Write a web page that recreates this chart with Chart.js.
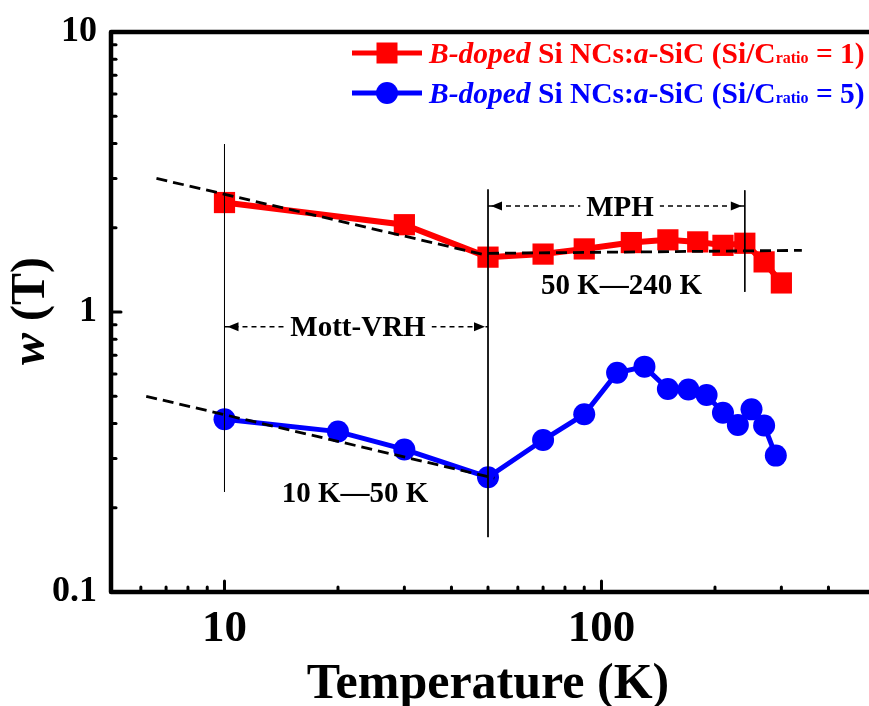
<!DOCTYPE html>
<html>
<head>
<meta charset="utf-8">
<script src="https://cdn.jsdelivr.net/npm/chart.js@4.4.1/dist/chart.umd.min.js"></script>
<style>
  html, body { margin: 0; padding: 0; background: #fff; overflow: hidden; }
  #wrap { width: 880px; height: 706px; }
</style>
</head>
<body>
<div id="wrap"><canvas id="chart" width="880" height="706"></canvas></div>
<script>
// values: temperature (K) vs w (T)
const tempRed = [10, 30, 50, 70, 90, 120, 150, 180, 210, 240, 270, 300];
const wRed = [2.46, 2.05, 1.57, 1.61, 1.68, 1.77, 1.81, 1.78, 1.73, 1.76, 1.51, 1.27];
const tempBlue = [10, 20, 30, 50, 70, 90, 110, 130, 150, 170, 190, 210, 230, 250, 270, 290];
const wBlue = [0.414, 0.374, 0.323, 0.257, 0.349, 0.431, 0.607, 0.638, 0.531, 0.529, 0.505, 0.437, 0.395, 0.449, 0.393, 0.307];
const ratios = [1, 5];
const seriesNames = ['B-doped Si NCs:a-SiC (Si/Cratio = 1)', 'B-doped Si NCs:a-SiC (Si/Cratio = 5)'];
const colors = ['#ff0000', '#0000ff'];

// dashed fit guides [T, w] and vertical region lines [T, wTop, wBottom]
const fitRedLow = [[6.6, 3.0], [50, 1.59]];
const fitRedHigh = [[50, 1.62], [340, 1.66]];
const fitBlue = [[6.2, 0.50], [52, 0.255]];
const regionLines = [[10, 3.98, 0.228], [50, 2.74, 0.157], [240, 2.72, 1.18]];
const arrows = [
  { from: 10, to: 50, w: 0.885, text: 'Mott-VRH', at: 22.6 },
  { from: 50, to: 240, w: 2.39, text: 'MPH', at: 112 }
];
const notes = [
  { text: '10 K\u201450 K', t: 22.2, w: 0.226 },
  { text: '50 K\u2014240 K', t: 113, w: 1.25 }
];

const xTicks = [6, 7, 8, 9, 10, 20, 30, 40, 50, 60, 70, 80, 90, 100, 200, 300, 400];
const xTickLabels = [10, 100];
const yTicks = [0.1, 0.2, 0.3, 0.4, 0.5, 0.6, 0.7, 0.8, 0.9, 1, 2, 3, 4, 5, 6, 7, 8, 9, 10];
const yTickLabels = [0.1, 1, 10];

const SERIF = '"Liberation Serif", "Times New Roman", serif';
const toXY = (xs, ys) => xs.map((x, i) => ({ x: x, y: ys[i] }));
const pairs = arr => arr.map(p => ({ x: p[0], y: p[1] }));

const guide = (data, dash, width) => ({
  data: data, borderColor: '#000', borderWidth: width, borderDash: dash,
  pointRadius: 0, fill: false, order: 0
});

const datasets = [];
datasets.push(guide(pairs(fitRedLow), [11, 6], 2.8));
datasets.push(guide(pairs(fitRedHigh), [11, 6], 2.8));
datasets.push(guide(pairs(fitBlue), [11, 6], 2.8));
regionLines.forEach(l => datasets.push(guide([{ x: l[0], y: l[1] }, { x: l[0], y: l[2] }], [], 1)));
arrows.forEach(a => datasets.push(guide([{ x: a.from, y: a.w }, { x: a.to, y: a.w }], [5, 4], 1.5)));

datasets.push({
  label: seriesNames[0], data: toXY(tempRed, wRed),
  borderColor: colors[0], backgroundColor: colors[0], borderWidth: 6,
  pointStyle: 'rect', pointRadius: 15, pointBorderWidth: 0, order: 1
});
datasets.push({
  label: seriesNames[1], data: toXY(tempBlue, wBlue),
  borderColor: colors[1], backgroundColor: colors[1], borderWidth: 5,
  pointStyle: 'circle', pointRadius: 11, pointBorderWidth: 0, order: 1
});

const decor = {
  id: 'decor',
  beforeDatasetsDraw(chart) {
    const { ctx, chartArea: a, scales: { x, y } } = chart;
    ctx.save();
    ctx.strokeStyle = '#000';
    ctx.lineCap = 'round';
    ctx.lineWidth = 3;
    x.ticks.forEach(t => {
      const px = x.getPixelForValue(t.value);
      const len = xTickLabels.includes(t.value) ? 11 : 5;
      ctx.beginPath(); ctx.moveTo(px, a.bottom); ctx.lineTo(px, a.bottom - len); ctx.stroke();
    });
    y.ticks.forEach(t => {
      const py = y.getPixelForValue(t.value);
      const len = yTickLabels.includes(t.value) ? 10 : 5;
      ctx.beginPath(); ctx.moveTo(a.left, py); ctx.lineTo(a.left + len, py); ctx.stroke();
    });
    ctx.lineWidth = 4.5;
    ctx.lineJoin = 'round';
    ctx.beginPath();
    ctx.moveTo(a.right + 10, a.top);
    ctx.lineTo(a.left, a.top);
    ctx.lineTo(a.left, a.bottom);
    ctx.lineTo(a.right + 10, a.bottom);
    ctx.stroke();
    ctx.restore();
  },
  afterDatasetsDraw(chart) {
    const { ctx, scales: { x, y } } = chart;
    ctx.save();
    ctx.fillStyle = '#000';
    ctx.font = 'bold 29px ' + SERIF;
    ctx.textAlign = 'center';
    ctx.textBaseline = 'middle';
    arrows.forEach(ar => {
      const py = y.getPixelForValue(ar.w);
      const x0 = x.getPixelForValue(ar.from) + 3;
      const x1 = x.getPixelForValue(ar.to) - 3;
      ctx.beginPath();
      ctx.moveTo(x0, py); ctx.lineTo(x0 + 11, py - 4.5); ctx.lineTo(x0 + 11, py + 4.5); ctx.closePath();
      ctx.moveTo(x1, py); ctx.lineTo(x1 - 11, py - 4.5); ctx.lineTo(x1 - 11, py + 4.5); ctx.closePath();
      ctx.fill();
      const cx = x.getPixelForValue(ar.at);
      const tw = ctx.measureText(ar.text).width;
      ctx.fillStyle = '#fff';
      ctx.fillRect(cx - tw / 2 - 6, py - 14, tw + 12, 28);
      ctx.fillStyle = '#000';
      ctx.fillText(ar.text, cx, py + 2);
    });
    notes.forEach(n => {
      ctx.fillText(n.text, x.getPixelForValue(n.t), y.getPixelForValue(n.w) + 2);
    });
    ctx.restore();
  },
  afterDraw(chart) {
    const { ctx } = chart;
    ctx.save();
    // legend
    const rowY = [53, 93];
    ratios.forEach((r, i) => {
      const c = colors[i];
      const cy = rowY[i];
      ctx.strokeStyle = c; ctx.fillStyle = c; ctx.lineWidth = 5;
      ctx.beginPath(); ctx.moveTo(352, cy); ctx.lineTo(422, cy); ctx.stroke();
      ctx.beginPath();
      if (i === 0) ctx.rect(376.5, cy - 10.5, 21, 21);
      else ctx.arc(387, cy, 11, 0, Math.PI * 2);
      ctx.fill();
      const segs = [
        ['B-doped', 'italic bold 29.5px'], [' Si NCs:', 'bold 29.5px'], ['a', 'italic bold 29.5px'],
        ['-SiC (Si/C', 'bold 29.5px'], ['ratio', 'bold 16px'], [' = ' + r + ')', 'bold 29.5px']
      ];
      let tx = 429;
      ctx.textBaseline = 'alphabetic';
      ctx.textAlign = 'left';
      segs.forEach(s => {
        ctx.font = s[1] + ' ' + SERIF;
        ctx.fillText(s[0], tx, cy + 10);
        tx += ctx.measureText(s[0]).width;
      });
    });
    // y axis title
    ctx.translate(32, 311);
    ctx.rotate(-Math.PI / 2);
    ctx.fillStyle = '#000';
    ctx.textBaseline = 'middle';
    ctx.font = 'italic bold 48px ' + SERIF;
    const w1 = ctx.measureText('w').width;
    ctx.font = 'bold 48px ' + SERIF;
    const w2 = ctx.measureText(' (T)').width;
    let sx = -(w1 + w2) / 2;
    ctx.font = 'italic bold 48px ' + SERIF;
    ctx.fillText('w', sx, 0);
    ctx.font = 'bold 48px ' + SERIF;
    ctx.fillText(' (T)', sx + w1, 0);
    ctx.restore();
  }
};

new Chart(document.getElementById('chart'), {
  type: 'line',
  data: { datasets: datasets },
  options: {
    responsive: false,
    animation: false,
    layout: { padding: { top: 32, right: 8, left: 0, bottom: 0 } },
    plugins: { legend: { display: false }, tooltip: { enabled: false } },
    scales: {
      x: {
        type: 'logarithmic', min: 5, max: 500,
        afterFit: s => { s.height = 114; s.paddingLeft = 0; s.paddingRight = 0; },
        afterBuildTicks: s => { s.ticks = xTicks.map(v => ({ value: v })); },
        grid: { display: false, drawTicks: false },
        border: { display: false },
        ticks: {
          autoSkip: false, maxRotation: 0, padding: 10, color: '#000',
          font: { family: SERIF, size: 45, weight: 'bold' },
          callback: v => xTickLabels.includes(v) ? String(v) : ''
        },
        title: {
          display: true, text: 'Temperature (K)', color: '#000',
          font: { family: SERIF, size: 50, weight: 'bold', lineHeight: 0.85 },
          padding: { top: 0, bottom: 0 }
        }
      },
      y: {
        type: 'logarithmic', min: 0.1, max: 10,
        afterFit: s => { s.width = 111; s.paddingTop = 0; s.paddingBottom = 0; },
        afterBuildTicks: s => { s.ticks = yTicks.map(v => ({ value: v })); },
        grid: { display: false, drawTicks: false },
        border: { display: false },
        ticks: {
          autoSkip: false, padding: 14, color: '#000',
          font: { family: SERIF, size: 36, weight: 'bold', lineHeight: 1 },
          callback: v => yTickLabels.includes(v) ? String(v) : ''
        }
      }
    }
  },
  plugins: [decor]
});
</script>
</body>
</html>
